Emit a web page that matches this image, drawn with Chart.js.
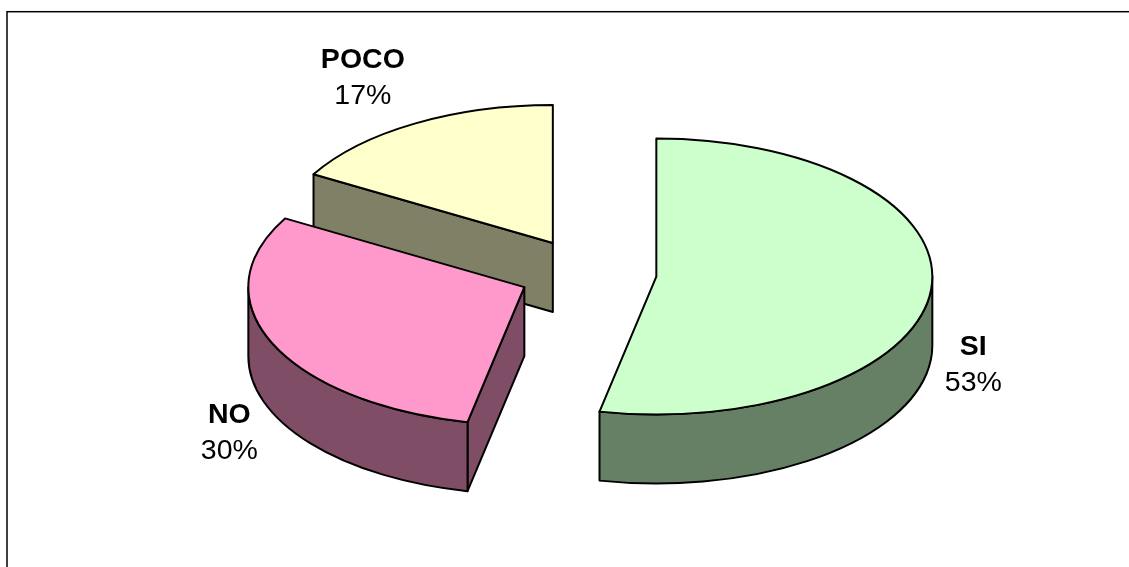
<!DOCTYPE html>
<html lang="es">
<head>
    <meta charset="UTF-8">
    <title>SI / NO / POCO</title>
    <script src="https://cdn.jsdelivr.net/npm/chart.js"></script>
    <style>
        html, body { margin: 0; padding: 0; background: #fff; overflow: hidden; }
        #box { position: relative; width: 1129px; height: 567px; }
    </style>
</head>
<body>
<div id="box"><canvas id="myChart" width="1129" height="567"></canvas></div>
<script>
    const labels = ["SI", "NO", "POCO"];
    const shares = [53.3, 30, 16.7];
    const colors = ["#CCFFCC", "#FF99CC", "#FFFFCC"];
    const sideColors = ["#668066", "#804D66", "#808066"];

    const squash = 0.5;      // tilt of the pie
    const depth = 69;        // height of the pie wall
    const explode = 69.2;    // how far every slice is pulled out
    const labelFont = "Liberation Sans, Arial, sans-serif";
    // label centre, relative to the vertex of the slice
    const labelShift = [[317, 89], [-295, 146.5], [-190, -164.5]];

    function slicePath(ctx, a, y) {
        ctx.beginPath();
        ctx.moveTo(a.x, y);
        ctx.ellipse(a.x, y, a.outerRadius, a.outerRadius * squash, 0, a.startAngle, a.endAngle);
        ctx.closePath();
    }

    function rimPoint(a, angle, y) {
        return [a.x + Math.cos(angle) * a.outerRadius, y + Math.sin(angle) * a.outerRadius * squash];
    }

    const pie3d = {
        id: "pie3d",
        beforeDraw(chart) {
            const ctx = chart.ctx;
            ctx.save();
            ctx.strokeStyle = "#000";
            ctx.lineWidth = 1.5;
            ctx.strokeRect(7, 11.7, chart.width + 20, chart.height + 20);
            ctx.restore();
        },
        beforeDatasetsDraw(chart) {
            const ctx = chart.ctx;
            const arcs = chart.getDatasetMeta(0).data;
            // back slices first
            for (let i = arcs.length - 1; i >= 0; i--) {
                const a = arcs[i];
                const mid = (a.startAngle + a.endAngle) / 2;
                const cx = a.x + Math.cos(mid) * explode;
                const cy = a.y + Math.sin(mid) * explode * squash;
                const s = { x: cx, outerRadius: a.outerRadius, startAngle: a.startAngle, endAngle: a.endAngle };

                ctx.save();
                ctx.lineWidth = 2;
                ctx.lineJoin = "round";
                ctx.strokeStyle = "#000";
                ctx.fillStyle = sideColors[i];

                // flat wall of the start cut, when it faces the viewer
                if (Math.cos(a.startAngle) < -0.001) {
                    const p = rimPoint(s, a.startAngle, cy);
                    ctx.beginPath();
                    ctx.moveTo(cx, cy);
                    ctx.lineTo(p[0], p[1]);
                    ctx.lineTo(p[0], p[1] + depth);
                    ctx.lineTo(cx, cy + depth);
                    ctx.closePath();
                    ctx.fill();
                    ctx.stroke();
                }

                // round wall, only the part facing the viewer
                const from = Math.max(a.startAngle, 0);
                const to = Math.min(a.endAngle, Math.PI);
                if (to > from) {
                    ctx.beginPath();
                    ctx.ellipse(cx, cy, a.outerRadius, a.outerRadius * squash, 0, from, to);
                    ctx.ellipse(cx, cy + depth, a.outerRadius, a.outerRadius * squash, 0, to, from, true);
                    ctx.closePath();
                    ctx.fill();
                    ctx.stroke();
                }

                // top of the slice: the library's own arc, squashed
                ctx.save();
                ctx.translate(cx, cy);
                ctx.scale(1, squash);
                ctx.translate(-a.x, -a.y);
                a.draw(ctx);
                ctx.restore();

                slicePath(ctx, s, cy);
                ctx.stroke();
                ctx.restore();
            }

            // labels
            ctx.save();
            ctx.fillStyle = "#000";
            ctx.textAlign = "center";
            ctx.textBaseline = "middle";
            arcs.forEach(function (a, i) {
                const mid = (a.startAngle + a.endAngle) / 2;
                const lx = a.x + Math.cos(mid) * explode + labelShift[i][0];
                const ly = a.y + Math.sin(mid) * explode * squash + labelShift[i][1];
                ctx.font = "bold 28.5px " + labelFont;
                ctx.fillText(labels[i], lx, ly - 18);
                ctx.font = "28.5px " + labelFont;
                ctx.fillText(Math.round(shares[i]) + "%", lx, ly + 18);
            });
            ctx.restore();
            return false;
        }
    };

    new Chart(document.getElementById("myChart"), {
        type: "pie",
        data: {
            labels: labels,
            datasets: [{
                data: shares,
                backgroundColor: colors,
                borderWidth: 0,
                radius: 276
            }]
        },
        options: {
            responsive: false,
            animation: false,
            events: [],
            layout: { padding: { left: 46, bottom: 21 } },
            plugins: { legend: { display: false }, tooltip: { enabled: false } }
        },
        plugins: [pie3d]
    });
</script>
</body>
</html>
